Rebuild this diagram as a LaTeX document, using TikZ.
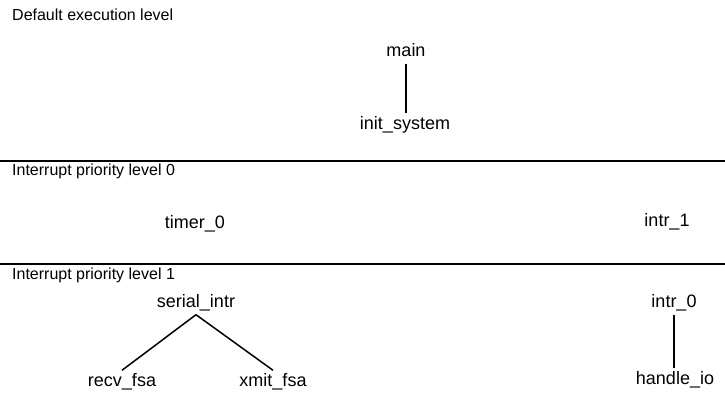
\documentclass[tikz,border=0pt]{standalone}
\usepackage{fontspec}
\setmainfont{Liberation Sans}
\usepackage{tikz}
\usetikzlibrary{calc}

\begin{document}
\begin{tikzpicture}[x=1pt, y=-1pt,
    fn/.style={inner sep=3pt, text height=13pt, text depth=4pt, font=\fontsize{18}{20}\selectfont},
    lvl/.style={anchor=west, inner sep=0pt, font=\fontsize{16}{18}\selectfont},
    link/.style={line width=1.5pt}]
    \useasboundingbox (0, 0) rectangle (725, 394);

    \node[lvl] (l0) at (12, 15) {Default execution level};
    \node[lvl] (l1) at (12, 171) {Interrupt priority level 0};
    \node[lvl] (l2) at (12, 275) {Interrupt priority level 1};

    \draw[line width=1.2pt] (0, 161) -- (725, 161);
    \draw[line width=1.2pt] (0, 264) -- (725, 264);

    \node[fn] (main) at (406, 52) {main};
    \node[fn] (init) at (405, 125) {init\_system};

    \node[fn] (timer) at (195, 224) {timer\_0};
    \node[fn] (intr1) at (667, 222) {intr\_1};

    \node[fn] (serial) at (196, 303) {serial\_intr};
    \node[fn] (recv) at (122, 382) {recv\_fsa};
    \node[fn] (xmit) at (273, 382) {xmit\_fsa};

    \node[fn] (intr0) at (674, 303) {intr\_0};
    \node[fn] (handle) at (675, 380) {handle\_io};

  \draw[link] (main.south) -- (main.south |- init.north);

  \draw[link] (serial.south) -- (recv.north);
  \draw[link] (serial.south) -- (xmit.north);

  \draw[link] (intr0.south) -- (intr0.south |- handle.north);
\end{tikzpicture}
\end{document}
